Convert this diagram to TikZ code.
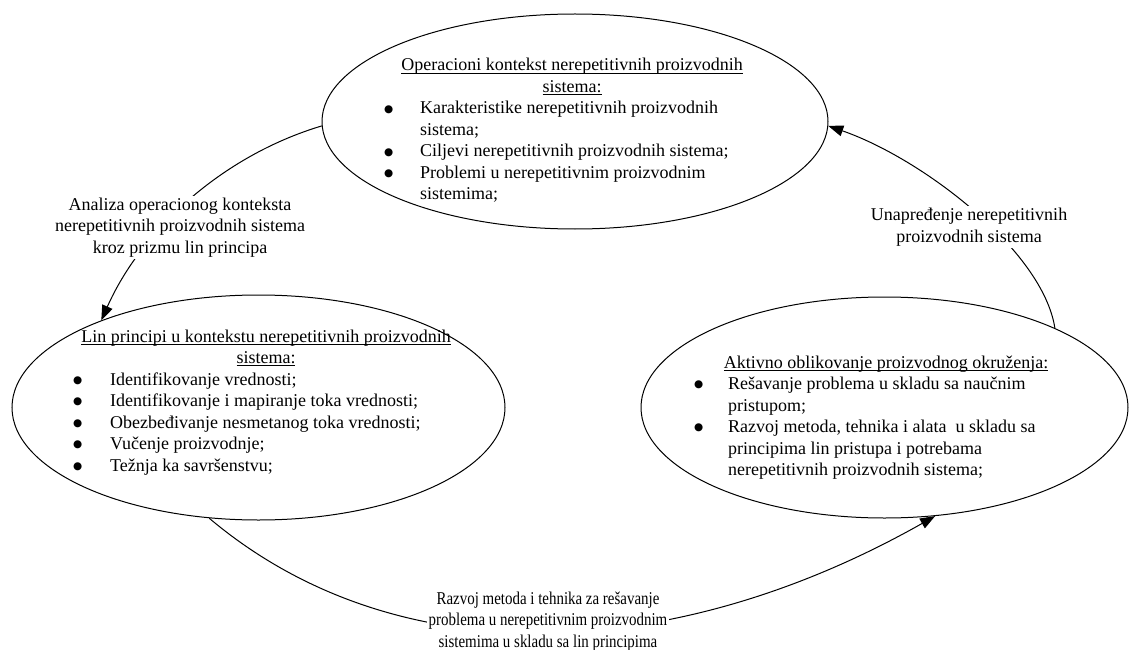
\documentclass[tikz,border=0pt]{standalone}
\usepackage{fontspec}
\setmainfont{Liberation Serif}
\newfontfamily\narrowserif[FakeStretch=0.83]{Liberation Serif}
\newfontfamily\dotfont{DejaVu Sans}
\usetikzlibrary{shapes.geometric,arrows.meta}

% underline at a fixed depth below the baseline
\newcommand\hl[1]{\setbox0\hbox{#1}\rlap{\rule[-2.8pt]{\wd0}{0.9pt}}\box0}
% bullet and hanging indent for the item lists
\newlength\bw
\newcommand\bul{\makebox[\bw][l]{\raisebox{1.8pt}{\dotfont\fontsize{10.5}{10.5}\selectfont ●}}}
\newcommand\ind{\hspace*{\bw}}

\begin{document}
\begin{tikzpicture}[x=1pt,y=-1pt,
  every node/.style={font=\fontsize{18}{21.5}\selectfont, inner sep=0pt},
  bubble/.style={draw, ellipse, line width=1pt, inner sep=0pt},
  link/.style={line width=1pt},
  tip/.style={-{Triangle[length=15pt,width=11pt]}},
  caption/.style={fill=white, align=center, inner sep=2pt}]

\useasboundingbox (0,0) rectangle (1130,650);

% the three stages
\node[bubble, minimum width=506pt, minimum height=215pt] (ops)  at (575,121.5) {};
\node[bubble, minimum width=493pt, minimum height=225pt] (lean) at (258.5,407.5) {};
\node[bubble, minimum width=487pt, minimum height=221pt] (env)  at (884.5,407.5) {};

% stage contents
\node[anchor=base] (opsH) at (572,71) {\begin{tabular}[t]{@{}c@{}}\hl{Operacioni kontekst nerepetitivnih proizvodnih}\\\hl{sistema:}\end{tabular}};
\node[anchor=base west] (opsL) at (384,114) {\setlength\bw{36pt}\begin{tabular}[t]{@{}l@{}}\bul Karakteristike nerepetitivnih proizvodnih\\\ind sistema;\\\bul Ciljevi nerepetitivnih proizvodnih sistema;\\\bul Problemi u nerepetitivnim proizvodnim\\\ind sistemima;\end{tabular}};

\node[anchor=base] (leanH) at (266,342) {\begin{tabular}[t]{@{}c@{}}\hl{Lin principi u kontekstu nerepetitivnih proizvodnih}\\\hl{sistema:}\end{tabular}};
\node[anchor=base west] (leanL) at (73,385) {\setlength\bw{37pt}\begin{tabular}[t]{@{}l@{}}\bul Identifikovanje vrednosti;\\\bul Identifikovanje i mapiranje toka vrednosti;\\\bul Obezbeđivanje nesmetanog toka vrednosti;\\\bul Vučenje proizvodnje;\\\bul Težnja ka savršenstvu;\end{tabular}};

\node[anchor=base] (envH) at (886,368) {\hl{Aktivno oblikovanje proizvodnog okruženja:}};
\node[anchor=base west] (envL) at (694,389.5) {\setlength\bw{34pt}\begin{tabular}[t]{@{}l@{}}\bul Rešavanje problema u skladu sa naučnim\\\ind pristupom;\\\bul Razvoj metoda, tehnika i alata~ u skladu sa\\\ind principima lin pristupa i potrebama\\\ind nerepetitivnih proizvodnih sistema;\end{tabular}};

% transitions between the stages
\draw[link,tip] (ops.181.5) .. controls +(-100,30) and +(40,-90) .. (lean.151.4);
\node[caption] (c1) at (180,227.5) {Analiza operacionog konteksta\\nerepetitivnih proizvodnih sistema\\kroz prizmu lin principa};

\draw[link,tip] (env.25.5) .. controls +(-12,-77) and +(95,33) .. (ops.-1.7);
\node[caption] (c2) at (969,227) {Unapređenje nerepetitivnih\\proizvodnih sistema};

\draw[link,tip] (lean.246.5) .. controls +(190,160) and +(-258,146) .. (env.295.6);
\node[caption, font=\fontsize{18}{21.5}\narrowserif] (c3) at (548,621.5) {Razvoj metoda i tehnika za rešavanje\\problema u nerepetitivnim proizvodnim\\sistemima u skladu sa lin principima};
\end{tikzpicture}
\end{document}
